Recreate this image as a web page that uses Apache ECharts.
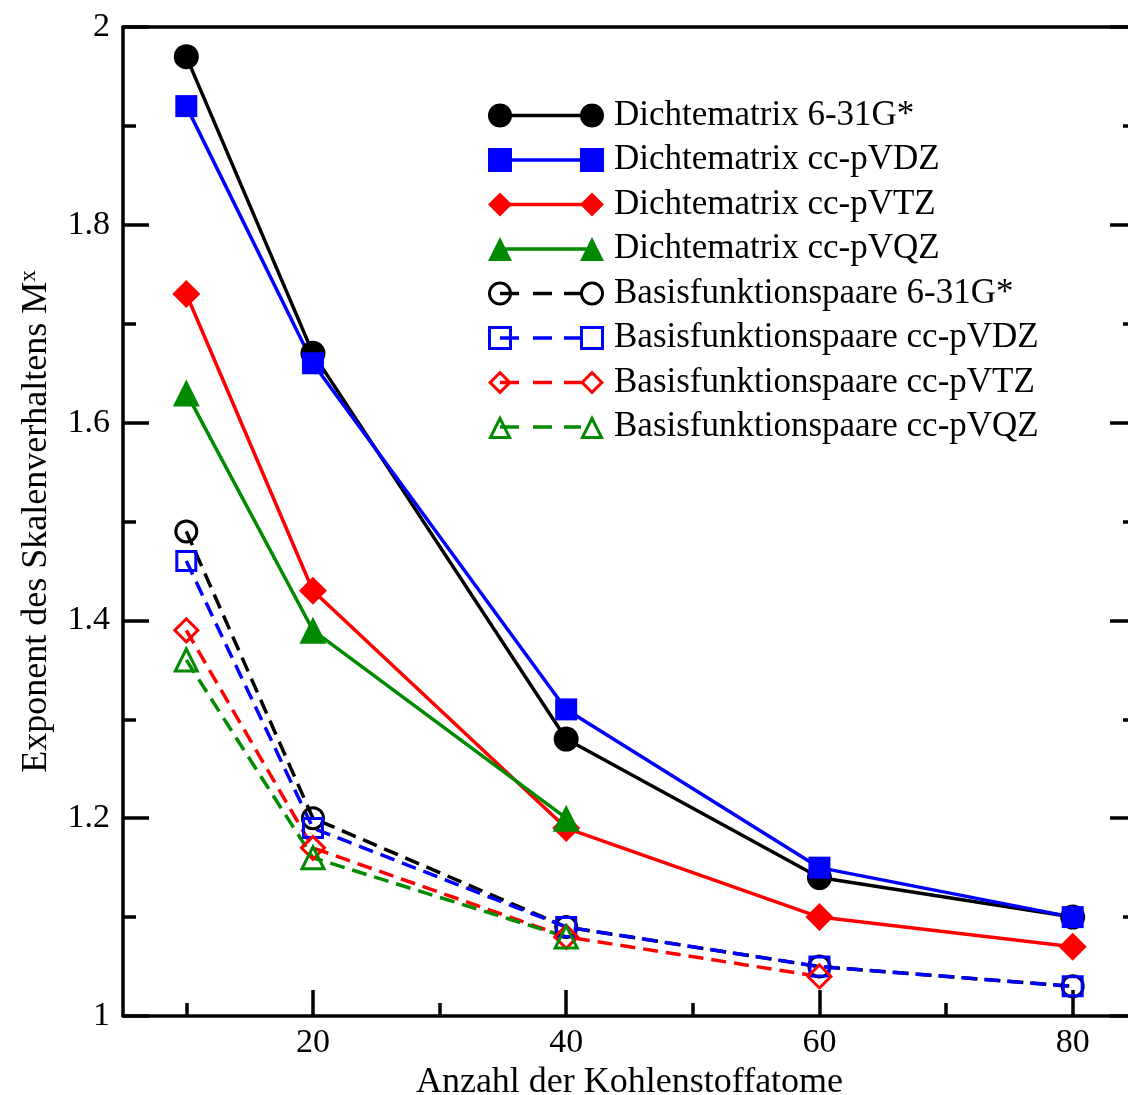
<!DOCTYPE html>
<html>
<head>
<meta charset="utf-8">
<script src="https://cdn.jsdelivr.net/npm/echarts@6/dist/echarts.min.js"></script>
<style>
html,body{margin:0;padding:0;background:#fff;overflow:hidden;}
#chart{width:1128px;height:1095px;}
</style>
</head>
<body>
<div id="chart"></div>
<script>
// ---- data ----
const carbonAtoms = [10, 20, 40, 60, 80];
const xMajorTicks = [20, 40, 60, 80];
const xMinorTicks = [10, 30, 50, 70];

const dm631 = [1.97, 1.67, 1.28, 1.14, 1.10];
const dmVDZ = [1.92, 1.66, 1.31, 1.15, 1.10];
const dmVTZ = [1.73, 1.43, 1.19, 1.10, 1.07];
const dmVQZ = [1.63, 1.39, 1.20];
const bf631 = [1.49, 1.20, 1.09, 1.05, 1.03];
const bfVDZ = [1.46, 1.19, 1.09, 1.05, 1.03];
const bfVTZ = [1.39, 1.17, 1.08, 1.04];
const bfVQZ = [1.36, 1.16, 1.08];

const names = [
  'Dichtematrix 6-31G*', 'Dichtematrix cc-pVDZ', 'Dichtematrix cc-pVTZ', 'Dichtematrix cc-pVQZ',
  'Basisfunktionspaare 6-31G*', 'Basisfunktionspaare cc-pVDZ', 'Basisfunktionspaare cc-pVTZ', 'Basisfunktionspaare cc-pVQZ'
];

// ---- styling ----
const FONT = "'Liberation Serif', 'DejaVu Serif', serif";
const BLACK = '#000000', BLUE = '#0000ff', RED = '#ff0000', GREEN = '#008a00';
const AXW = 3.5;
const LW = 3.5;
const CLEAR = 'rgba(255,255,255,0)';

function pairs(ys) { return ys.map((y, i) => [carbonAtoms[i], y]); }

function solid(name, ys, color, symbol, size) {
  return {
    name, type: 'line', data: pairs(ys), color,
    symbol, symbolSize: size, showSymbol: true,
    lineStyle: { color, width: LW, type: 'solid' },
    itemStyle: { color, borderWidth: 0 },
    emphasis: { disabled: true },
    animation: false, z: 3
  };
}
function dashed(name, ys, color, symbol, size) {
  return {
    name, type: 'line', data: pairs(ys), color,
    symbol, symbolSize: size, showSymbol: true,
    lineStyle: { color, width: LW, type: [15, 8] },
    itemStyle: { color: CLEAR, borderColor: color, borderWidth: 3 },
    emphasis: { disabled: true },
    animation: false, z: 2
  };
}

// ---- legend icons (line with a marker at each end) ----
const IW = 116, IH = 24, CY = 12, LX = 12, RX = 104, SR = 12, TH = 3;
function poly(pts, reverse) {
  const p = reverse ? pts.slice().reverse() : pts;
  return 'M' + p.map(q => q[0].toFixed(2) + ' ' + q[1].toFixed(2)).join('L') + 'Z';
}
function rectPts(x0, y0, x1, y1) { return [[x0, y0], [x1, y0], [x1, y1], [x0, y1]]; }
function shapePts(kind, cx, cy, r) {
  if (kind === 'circle') {
    const a = []; const n = 40;
    for (let i = 0; i < n; i++) { const t = 2 * Math.PI * i / n; a.push([cx + r * Math.cos(t), cy + r * Math.sin(t)]); }
    return a;
  }
  if (kind === 'rect') return rectPts(cx - r, cy - r, cx + r, cy + r);
  if (kind === 'diamond') return [[cx, cy - r], [cx + r, cy], [cx, cy + r], [cx - r, cy]];
  return [[cx, cy - r], [cx + r, cy + r], [cx - r, cy + r]]; // triangle
}
function innerPts(kind, cx, cy, r, t) {
  if (kind === 'circle' || kind === 'rect') return shapePts(kind, cx, cy, r - t);
  if (kind === 'diamond') return shapePts(kind, cx, cy, r - t * Math.SQRT2);
  const rho = 2 * r / (1 + Math.sqrt(5));
  const iy = cy + r - rho, k = (rho - t) / rho;
  return shapePts(kind, cx, cy, r).map(p => [cx + (p[0] - cx) * k, iy + (p[1] - iy) * k]);
}
function legendIcon(kind, hollow) {
  let d = '';
  [LX, RX].forEach(cx => {
    d += poly(shapePts(kind, cx, CY, SR));
    if (hollow) d += poly(innerPts(kind, cx, CY, SR, TH), true);
  });
  const segs = hollow ? [[LX, 31], [45, 64], [76, RX - SR + 1]] : [[LX, RX]];
  segs.forEach(s => { d += poly(rectPts(s[0], CY - 1.7, s[1], CY + 1.7)); });
  return 'path://' + d;
}
const legendKinds = ['circle', 'rect', 'diamond', 'triangle', 'circle', 'rect', 'diamond', 'triangle'];
const legendColors = [BLACK, BLUE, RED, GREEN, BLACK, BLUE, RED, GREEN];
const legendData = names.map((n, i) => ({
  name: n,
  icon: legendIcon(legendKinds[i], i >= 4),
  itemStyle: { color: legendColors[i], borderWidth: 0 }
}));

const series = [
  dashed(names[4], bf631, BLACK, 'circle', 21),
  dashed(names[5], bfVDZ, BLUE, 'rect', 19),
  dashed(names[6], bfVTZ, RED, 'diamond', 23),
  dashed(names[7], bfVQZ, GREEN, 'triangle', 22),
  solid(names[0], dm631, BLACK, 'circle', 25),
  solid(names[1], dmVDZ, BLUE, 'rect', 22),
  solid(names[2], dmVTZ, RED, 'diamond', 28),
  solid(names[3], dmVQZ, GREEN, 'triangle', 27)
];

const chart = echarts.init(document.getElementById('chart'), null, { renderer: 'canvas' });
chart.setOption({
  backgroundColor: '#ffffff',
  animation: false,
  textStyle: { fontFamily: FONT, color: '#000' },
  grid: { left: 123, top: 27, width: 1013, height: 989, containLabel: false, outerBoundsMode: 'none' },
  legend: {
    data: legendData,
    orient: 'vertical',
    left: 483, top: 93,
    itemWidth: IW, itemHeight: IH, itemGap: 9.5,
    itemStyle: { borderWidth: 0 },
    selectedMode: false,
    textStyle: { fontFamily: FONT, fontSize: 35, color: '#000', lineHeight: 34, padding: [0, 0, 0, 5] }
  },
  xAxis: [
    {
      type: 'value', position: 'bottom', min: 5, max: 85,
      name: 'Anzahl der Kohlenstoffatome', nameLocation: 'middle', nameGap: 46,
      nameTextStyle: { fontFamily: FONT, fontSize: 36, color: '#000' },
      axisLine: { show: true, onZero: false, lineStyle: { color: '#000', width: AXW } },
      axisTick: { show: true, inside: true, length: 26, lineStyle: { color: '#000', width: AXW }, customValues: xMajorTicks },
      axisLabel: { show: true, margin: 10, fontFamily: FONT, fontSize: 34, color: '#000', customValues: xMajorTicks },
      splitLine: { show: false }
    },
    {
      type: 'value', position: 'bottom', min: 5, max: 85,
      axisLine: { show: false },
      axisTick: { show: true, inside: true, length: 13, lineStyle: { color: '#000', width: AXW }, customValues: xMinorTicks },
      axisLabel: { show: false },
      splitLine: { show: false }
    },
    {
      type: 'value', position: 'top', min: 5, max: 85,
      axisLine: { show: true, onZero: false, lineStyle: { color: '#000', width: AXW } },
      axisTick: { show: false }, axisLabel: { show: false }, splitLine: { show: false }
    }
  ],
  yAxis: [
    {
      type: 'value', position: 'left', min: 1, max: 2, interval: 0.2,
      name: 'Exponent des Skalenverhaltens M{sup|x}', nameLocation: 'middle', nameGap: 67,
      nameTextStyle: {
        fontFamily: FONT, fontSize: 36, color: '#000',
        rich: { sup: { fontFamily: FONT, fontSize: 23, verticalAlign: 'top', padding: [0, 0, 16, 0] } }
      },
      axisLine: { show: true, onZero: false, lineStyle: { color: '#000', width: AXW } },
      axisTick: { show: true, inside: true, length: 26, lineStyle: { color: '#000', width: AXW } },
      minorTick: { show: true, splitNumber: 2, length: 13, lineStyle: { color: '#000', width: AXW } },
      axisLabel: { show: true, margin: 13, fontFamily: FONT, fontSize: 34, color: '#000' },
      splitLine: { show: false }, minorSplitLine: { show: false }
    },
    {
      type: 'value', position: 'right', min: 1, max: 2, interval: 0.2,
      axisLine: { show: true, onZero: false, lineStyle: { color: '#000', width: AXW } },
      axisTick: { show: true, inside: true, length: 26, lineStyle: { color: '#000', width: AXW } },
      minorTick: { show: true, splitNumber: 2, length: 13, lineStyle: { color: '#000', width: AXW } },
      axisLabel: { show: false },
      splitLine: { show: false }, minorSplitLine: { show: false }
    }
  ],
  series: series
});
</script>
</body>
</html>
